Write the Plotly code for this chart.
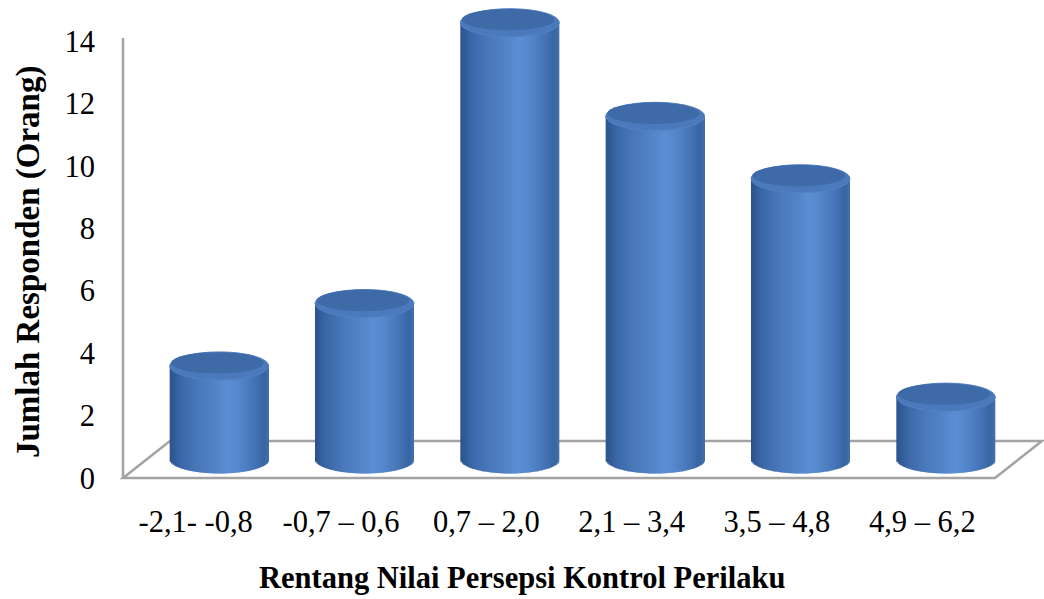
import numpy as np
import plotly.graph_objects as go

# Data
categories = ["-2,1- -0,8", "-0,7 – 0,6", "0,7 – 2,0", "2,1 – 3,4", "3,5 – 4,8", "4,9 – 6,2"]
responden = [3, 5, 14, 11, 9, 2]
y_ticks = [0, 2, 4, 6, 8, 10, 12, 14]

# Geometry of the pseudo-3D view (pixel based, converted to axis units)
W, H = 1044, 599
ML, MR, MT, MB = 108, 0, 2, 99
plot_w = W - ML - MR
plot_h = H - MT - MB
px_per_cat = 145.33
px_per_unit = 31.2
front_left_px = 15            # category -0.5 sits 15 px right of plot edge
zero_px_from_bottom = 22      # value 0 sits 22 px above plot bottom
depth_dx_px, depth_dy_px = 47, 37  # floor depth offset

x0 = -0.5 - front_left_px / px_per_cat
x1 = x0 + plot_w / px_per_cat
y0 = -zero_px_from_bottom / px_per_unit
y1 = y0 + plot_h / px_per_unit

# bars sit halfway into the floor depth
bx = (depth_dx_px / 2) / px_per_cat
by = (depth_dy_px / 2) / px_per_unit

half_w = 49.5 / px_per_cat
ell_b = 14.0 / px_per_unit

font_family = "Liberation Serif, Times New Roman, serif"

# cylinder shading across its width (u from -1 left to 1 right)
stops_u = [-1.0, -0.8, -0.45, 0.0, 0.18, 0.4, 0.72, 0.9, 1.0]
stops_c = [
    (0x2b, 0x52, 0x8e), (0x3a, 0x66, 0xa5), (0x49, 0x78, 0xba),
    (0x55, 0x87, 0xcb), (0x5b, 0x8f, 0xd4), (0x55, 0x87, 0xcc),
    (0x45, 0x74, 0xb5), (0x39, 0x65, 0xa2), (0x42, 0x70, 0xae),
]


def shade(u):
    r = np.interp(u, stops_u, [c[0] for c in stops_c])
    g = np.interp(u, stops_u, [c[1] for c in stops_c])
    b = np.interp(u, stops_u, [c[2] for c in stops_c])
    return f"rgb({int(r)},{int(g)},{int(b)})"


fig = go.Figure()

# anchor trace for the front (labelled) axes
fig.add_trace(go.Scatter(x=[], y=[], xaxis="x", yaxis="y", showlegend=False))

n_strips = 70
step = 2 * half_w / n_strips
xs = list(range(len(categories)))
vals = np.array(responden, dtype=float)
for j in range(n_strips):
    u = -1 + (j + 0.5) * 2 / n_strips
    s = ell_b * np.sqrt(max(0.0, 1 - u * u))
    fig.add_trace(go.Bar(
        x=xs,
        y=vals + s,
        base=[-s] * len(xs),
        offset=-half_w + j * step,
        width=step * 1.6 if j < n_strips - 1 else step,
        marker=dict(color=shade(u), line=dict(width=0)),
        xaxis="x2", yaxis="y2",
        showlegend=False, hoverinfo="skip",
    ))

shapes = []
# floor outline
dx = depth_dx_px / px_per_cat
dy = depth_dy_px / px_per_unit
shapes.append(dict(
    type="path", xref="x", yref="y", layer="below",
    path=f"M {-0.5},{0} L {5.5},{0} L {5.5 + dx},{dy} L {-0.5 + dx},{dy} Z",
    line=dict(color="#a3a3a3", width=2.5),
))
# left value axis line
shapes.append(dict(
    type="line", xref="x", yref="y", layer="below",
    x0=-0.5, x1=-0.5, y0=0, y1=max(y_ticks) + 0.1,
    line=dict(color="#a3a3a3", width=2.5),
))
# cylinder tops
for i, v in zip(xs, responden):
    shapes.append(dict(
        type="circle", xref="x2", yref="y2", layer="above",
        x0=i - half_w, x1=i + half_w, y0=v - ell_b, y1=v + ell_b,
        fillcolor="#4a7abb", line=dict(color="#5282c2", width=1),
    ))
    shapes.append(dict(
        type="circle", xref="x2", yref="y2", layer="above",
        x0=i - half_w * 0.97, x1=i + half_w * 0.9, y0=v - ell_b * 0.55, y1=v + ell_b * 0.98,
        fillcolor="#3e6aa8", line=dict(width=0),
    ))

fig.update_layout(
    width=W, height=H,
    margin=dict(l=ML, r=MR, t=MT, b=MB),
    paper_bgcolor="white", plot_bgcolor="rgba(0,0,0,0)",
    barmode="overlay",
    showlegend=False,
    shapes=shapes,
    font=dict(family=font_family, color="black"),
    xaxis=dict(
        range=[x0, x1], tickvals=xs, ticktext=categories,
        showgrid=False, zeroline=False, showline=False, ticks="",
        tickfont=dict(size=30.5, family=font_family, color="black"),
        ticklabelstandoff=0, fixedrange=True,
    ),
    yaxis=dict(
        range=[y0, y1], tickvals=y_ticks,
        showgrid=False, zeroline=False, showline=False, ticks="",
        tickfont=dict(size=30.5, family=font_family, color="black"),
        ticklabelstandoff=12, fixedrange=True,
    ),
    xaxis2=dict(range=[x0 - bx, x1 - bx], overlaying="x", visible=False, fixedrange=True),
    yaxis2=dict(range=[y0 - by, y1 - by], overlaying="y", visible=False, fixedrange=True),
    annotations=[
        dict(text="<b>Jumlah Responden (Orang)</b>", xref="paper", yref="paper",
             x=(28 - ML) / plot_w, y=(MT + plot_h - 262) / plot_h,
             textangle=-90, showarrow=False, xanchor="center", yanchor="middle",
             font=dict(size=33, family=font_family, color="black")),
        dict(text="<b>Rentang Nilai Persepsi Kontrol Perilaku</b>", xref="paper", yref="paper",
             x=(522 - ML) / plot_w, y=(MT + plot_h - 578) / plot_h,
             showarrow=False, xanchor="center", yanchor="middle",
             font=dict(size=30.5, family=font_family, color="black")),
    ],
)

fig.write_html("out.html")
